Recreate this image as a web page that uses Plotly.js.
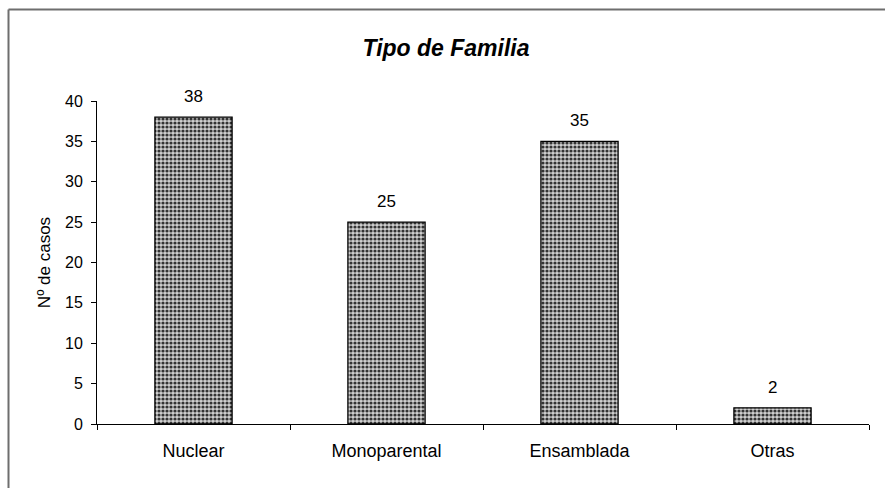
<!DOCTYPE html>
<html>
<head>
<meta charset="utf-8">
<script src="https://cdn.plot.ly/plotly-3.0.1.min.js"></script>
<style>html,body{margin:0;padding:0;background:#fff;}#chart{width:885px;height:488px;}</style>
</head>
<body>
<div id="chart"></div>
<script>
var categories = ["Nuclear", "Monoparental", "Ensamblada", "Otras"];
var casos = [38, 25, 35, 2];
var yTicks = [0, 5, 10, 15, 20, 25, 30, 35, 40];

var L = 97, R = 16, T = 101, B = 64, W = 885, H = 488;
var pw = W - L - R, ph = H - T - B;
function px(x){ return (x - L) / pw; }
function py(y){ return (H - B - y) / ph; }
var FONT = 'Liberation Sans, Arial, sans-serif';

var trace = {
  type: 'bar',
  x: categories,
  y: casos,
  width: 0.4,
  marker: {
    color: '#b5b5b5',
    line: {color: '#000', width: 1.3},
    pattern: {shape: '.', fgcolor: '#333', bgcolor: '#d0d0d0', size: 4, solidity: 0.5}
  },
  hoverinfo: 'skip'
};

var annotations = categories.map(function(c, i){
  return {x: c, y: casos[i], xref: 'x', yref: 'y', text: String(casos[i]),
    showarrow: false, yanchor: 'bottom', yshift: 9,
    font: {family: FONT, size: 17, color: '#000'}};
});

var layout = {
  width: W, height: H,
  margin: {l: L, r: R, t: T, b: B, pad: 0},
  paper_bgcolor: '#fff', plot_bgcolor: '#fff',
  showlegend: false,
  font: {family: FONT, size: 16, color: '#000'},
  title: {
    text: '<b><i>Tipo de Familia</i></b>',
    font: {family: FONT, size: 23, color: '#000'},
    x: 446 / W, xref: 'container', xanchor: 'center',
    y: 1 - 48 / H, yref: 'container', yanchor: 'middle'
  },
  xaxis: {
    type: 'category',
    showline: true, linecolor: '#000', linewidth: 1,
    ticks: 'outside', tickson: 'boundaries', ticklen: 5, tickcolor: '#000',
    ticklabelstandoff: 10,
    showgrid: false, zeroline: false,
    tickfont: {size: 18},
    fixedrange: true
  },
  yaxis: {
    range: [0, 40],
    tickvals: yTicks,
    showline: true, linecolor: '#000', linewidth: 1,
    ticks: 'outside', ticklen: 5, tickcolor: '#000',
    ticklabelstandoff: 5,
    showgrid: false, zeroline: false,
    tickfont: {size: 16},
    title: {text: 'Nº de casos', font: {size: 17}, standoff: 10},
    fixedrange: true
  },
  annotations: annotations,
  shapes: [
    {type: 'line', xref: 'paper', yref: 'paper', x0: px(8.5), x1: px(890), y0: py(9.5), y1: py(9.5), line: {color: '#6e6e6e', width: 2}},
    {type: 'line', xref: 'paper', yref: 'paper', x0: px(8.5), x1: px(8.5), y0: py(9.5), y1: py(495), line: {color: '#6e6e6e', width: 2}}
  ]
};

Plotly.newPlot('chart', [trace], layout, {displayModeBar: false, staticPlot: true});
</script>
</body>
</html>
